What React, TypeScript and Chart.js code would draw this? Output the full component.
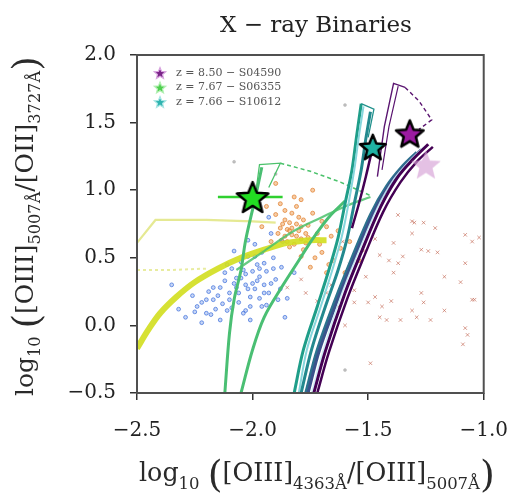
import React, { useEffect, useRef } from 'react';
import { Chart, registerables } from 'chart.js';

Chart.register(...registerables);

type P = [number, number];

const FONT = '"DejaVu Serif", serif';

const xTicks = [-2.5, -2.0, -1.5, -1.0];
const yTicks = [-0.5, 0.0, 0.5, 1.0, 1.5, 2.0];

const legendLabels = ['z = 8.50 − S04590', 'z = 7.67 − S06355', 'z = 7.66 − S10612'];

// Observed galaxies
const purpleStar: P = [-1.32, 1.42];
const greenStar: P = [-2.0, 0.95];
const tealStar: P = [-1.48, 1.32];
const fadedStar: P = [-1.25, 1.19];
const greenErr: P[] = [[-2.15, 0.95], [-1.87, 0.95]];

// Comparison samples
const bluePts: P[] = [
  [-2.22, 0.17], [-2.2, 0.09], [-2.25, 0.1], [-2.17, 0.19], [-2.14, 0.28], [-2.14, 0.04], [-2.11, 0.11],
  [-2.08, 0.31], [-2.04, 0.41], [-2.03, 0.11], [-2.01, 0.21], [-2.01, 0.04], [-1.97, 0.36], [-1.95, 0.46],
  [-1.92, 0.31], [-1.89, 0.19], [-1.86, 0.06], [-2.02, 0.51], [-1.96, 0.54], [-2.12, 0.39], [-2.2, 0.19],
  [-2.1, 0.19], [-1.9, 0.34], [-1.875, 0.43], [-2.04, 0.09], [-1.96, 0.14], [-2.17, 0.28], [-2.24, 0.14],
  [-2.29, 0.06], [-2.22, 0.02], [-1.93, 0.24], [-1.82, 0.39], [-2.02, 0.63], [-1.92, 0.68], [-2.0, 0.31],
  [-2.06, 0.24], [-1.99, 0.27], [-2.07, 0.35], [-1.94, 0.4], [-2.09, 0.13], [-2.15, 0.22], [-1.98, 0.45],
  [-2.05, 0.47], [-1.91, 0.5], [-2.12, 0.33], [-1.88, 0.27], [-2.18, 0.08], [-2.03, 0.3], [-1.97, 0.2],
  [-2.26, 0.22], [-2.32, 0.12], [-1.85, 0.2], [-1.99, 0.6], [-2.08, 0.55], [-2.35, 0.3], [-1.93, 0.8],
  [-1.87, 0.62], [-2.05, 0.35], [-2.02, 0.27], [-1.98, 0.33], [-2.07, 0.28], [-2.1, 0.24], [-2.0, 0.4],
  [-1.95, 0.3], [-2.13, 0.16], [-2.06, 0.17], [-1.94, 0.15], [-2.03, 0.38], [-1.97, 0.42], [-2.16, 0.12],
  [-2.09, 0.42], [-2.01, 0.14], [-1.91, 0.42], [-2.19, 0.25], [-1.99, 0.51], [-2.11, 0.45], [-1.95, 0.24],
];

const orangePts: P[] = [
  [-1.85, 0.71], [-1.79, 0.73], [-1.875, 0.63], [-1.96, 0.73], [-1.77, 0.61], [-1.7, 0.54], [-1.65, 0.48],
  [-1.75, 0.43], [-1.79, 0.51], [-1.68, 0.39], [-1.6, 0.39], [-1.54, 0.48], [-1.99, 0.98], [-1.9, 1.05],
  [-1.82, 0.95], [-1.74, 0.83], [-1.68, 0.73], [-1.83, 0.83], [-1.88, 0.9], [-1.79, 0.93], [-1.74, 1.0],
  [-1.86, 0.78], [-1.81, 0.66], [-1.84, 0.58], [-1.72, 0.68], [-1.92, 0.62], [-1.88, 0.72], [-1.8, 0.8],
  [-1.76, 0.74], [-1.83, 0.67], [-1.9, 0.82], [-1.71, 0.6], [-1.66, 0.66], [-1.78, 0.56], [-1.86, 0.85],
  [-1.94, 0.88], [-1.73, 0.5], [-1.62, 0.57], [-1.67, 0.45], [-1.81, 0.88], [-1.77, 0.68], [-1.84, 0.76],
  [-1.7, 0.77], [-1.63, 0.7], [-1.58, 0.62], [-1.84, 0.7], [-1.86, 0.66], [-1.8, 0.7], [-1.82, 0.6],
  [-1.78, 0.78], [-1.87, 0.75], [-1.83, 0.72], [-1.76, 0.65], [-1.89, 0.68], [-1.81, 0.75], [-1.85, 0.62],
  [-1.79, 0.64],
];

const redPts: P[] = [
  [-1.371, 0.817], [-1.3, 0.76], [-1.26, 0.76], [-1.21, 0.72], [-1.31, 0.68], [-1.47, 0.64], [-1.39, 0.61],
  [-1.27, 0.56], [-1.24, 0.55], [-1.2, 0.54], [-1.08, 0.67], [-1.05, 0.62], [-1.02, 0.65], [-1.45, 0.52],
  [-1.41, 0.48], [-1.37, 0.46], [-1.35, 0.51], [-1.39, 0.39], [-1.17, 0.36], [-1.08, 0.46], [-1.1, 0.32],
  [-1.51, 0.36], [-1.56, 0.26], [-1.47, 0.21], [-1.56, 0.17], [-1.5, 0.17], [-1.44, 0.14], [-1.4, 0.18],
  [-1.31, 0.11], [-1.27, 0.24], [-1.26, 0.17], [-1.17, 0.11], [-1.05, 0.19], [-1.45, 0.06], [-1.42, 0.04],
  [-1.36, 0.04], [-1.29, 0.06], [-1.23, 0.04], [-1.6, 0.0], [-1.08, -0.02], [-1.07, -0.07], [-1.09, -0.14],
  [-1.79, 0.34], [-1.85, 0.28], [-1.77, 0.24], [-1.68, 0.24], [-1.63, 0.14], [-1.49, -0.28], [-1.31, 0.77],
  [-1.04, 0.19], [-1.66, 0.3], [-1.72, 0.18], [-1.58, 0.45], [-1.52, 0.55], [-1.61, 0.62],
];

const grayPts: P[] = [[-1.6, -0.33], [-2.08, 1.21], [-1.6, 1.63], [-1.9, 1.12]];

// Photoionisation model tracks
const yellowThick: P[] = [
  [-2.5, -0.17], [-2.45, -0.03], [-2.4, 0.09], [-2.33, 0.21], [-2.25, 0.32], [-2.15, 0.42],
  [-2.05, 0.5], [-1.95, 0.56], [-1.85, 0.61], [-1.75, 0.63], [-1.68, 0.63],
];
const yellowThin: P[] = [[-2.5, 0.61], [-2.42, 0.78], [-2.2, 0.78], [-2.0, 0.77], [-1.9, 0.76]];
const yellowDotted: P[] = [[-2.5, 0.41], [-2.35, 0.41], [-2.2, 0.42]];

const greenA: P[] = [[-2.12, -0.5], [-2.1, -0.06], [-2.08, 0.19], [-2.05, 0.41], [-2.03, 0.63], [-1.99, 0.93], [-1.96, 1.17]];
const greenB: P[] = [[-2.05, -0.5], [-2.0, -0.18], [-1.95, 0.06], [-1.875, 0.28], [-1.8, 0.48], [-1.74, 0.64], [-1.67, 0.8], [-1.6, 0.92]];
const greenDiag: P[] = [[-2.07, 0.41], [-1.95, 0.55], [-1.82, 0.7], [-1.7, 0.8], [-1.6, 0.88], [-1.49, 0.95]];
const greenTop: P[] = [[-1.99, 0.93], [-1.97, 1.19], [-1.88, 1.2], [-1.93, 1.02]];
const greenDash: P[] = [[-1.88, 1.2], [-1.75, 1.14], [-1.62, 1.06], [-1.49, 0.96]];

const tealA: P[] = [[-1.82, -0.5], [-1.78, -0.18], [-1.72, 0.14], [-1.67, 0.41], [-1.63, 0.65], [-1.6, 0.9], [-1.57, 1.15], [-1.55, 1.4], [-1.53, 1.64]];
const cyanLight: P[] = [[-1.8, -0.5], [-1.765, -0.18], [-1.705, 0.14], [-1.655, 0.41], [-1.615, 0.65], [-1.585, 0.9], [-1.56, 1.15], [-1.54, 1.4], [-1.52, 1.62]];
const tealB: P[] = [[-1.79, -0.5], [-1.745, -0.18], [-1.685, 0.14], [-1.63, 0.41], [-1.59, 0.65], [-1.56, 0.9], [-1.53, 1.15], [-1.51, 1.38], [-1.49, 1.58]];
const tealTop: P[] = [[-1.53, 1.64], [-1.475, 1.6], [-1.5, 1.39]];

const blueTeal: P[] = [[-1.77, -0.5], [-1.72, -0.18], [-1.64, 0.2], [-1.57, 0.5], [-1.49, 0.82], [-1.42, 1.03], [-1.35, 1.18], [-1.29, 1.28]];
const navy: P[] = [[-1.76, -0.5], [-1.71, -0.18], [-1.625, 0.22], [-1.555, 0.52], [-1.47, 0.86], [-1.4, 1.06], [-1.33, 1.2], [-1.27, 1.3]];
const paleGap: P[] = [[-1.745, -0.5], [-1.695, -0.19], [-1.615, 0.23], [-1.545, 0.53], [-1.46, 0.87], [-1.39, 1.08], [-1.32, 1.22], [-1.26, 1.32]];
const purpleMain: P[] = [[-1.735, -0.5], [-1.685, -0.19], [-1.6, 0.24], [-1.53, 0.54], [-1.445, 0.88], [-1.375, 1.09], [-1.305, 1.23], [-1.24, 1.34]];
const purpleOuter: P[] = [[-1.72, -0.5], [-1.67, -0.2], [-1.59, 0.2], [-1.52, 0.5], [-1.435, 0.84], [-1.36, 1.06], [-1.29, 1.21], [-1.22, 1.32]];
const purpleToTeal: P[] = [[-1.57, 0.72], [-1.54, 0.9], [-1.51, 1.1], [-1.48, 1.32]];
const purpleUpA: P[] = [[-1.46, 1.1], [-1.43, 1.47], [-1.39, 1.79], [-1.34, 1.76]];
const purpleUpB: P[] = [[-1.44, 1.15], [-1.41, 1.47], [-1.37, 1.77]];
const purpleDash: P[] = [[-1.34, 1.76], [-1.28, 1.66], [-1.225, 1.52], [-1.28, 1.45]];

const xy = (arr: P[]) => arr.map(([x, y]) => ({ x, y }));
const fmt = (v: number) => v.toFixed(1).replace('-', '−');

function starPath(ctx: CanvasRenderingContext2D, cx: number, cy: number, R: number, r: number) {
  ctx.beginPath();
  for (let i = 0; i < 10; i++) {
    const a = -Math.PI / 2 + (i * Math.PI) / 5;
    const rad = i % 2 === 0 ? R : r;
    const px = cx + rad * Math.cos(a);
    const py = cy + rad * Math.sin(a);
    if (i === 0) ctx.moveTo(px, py);
    else ctx.lineTo(px, py);
  }
  ctx.closePath();
}

function starImage(R: number, fill: string, stroke: string, lw: number) {
  const size = Math.ceil(2 * R + 2 * lw + 6);
  const c = document.createElement('canvas');
  c.width = size;
  c.height = size;
  const ctx = c.getContext('2d')!;
  starPath(ctx, size / 2, size / 2 + R * 0.1, R, R * 0.44);
  ctx.fillStyle = fill;
  ctx.fill();
  if (lw > 0) {
    ctx.lineJoin = 'round';
    ctx.lineWidth = lw;
    ctx.strokeStyle = stroke;
    ctx.stroke();
  }
  return c;
}

type Seg = { t: string; k: 'm' | 's' | 'p' };

// Axis titles with subscripts, scaled to a given length and centred on (cx, baseline)
function drawRich(ctx: CanvasRenderingContext2D, segs: Seg[], cx: number, baseline: number, rotate: boolean, target: number) {
  const base = { m: 20, s: 13, p: 30 };
  const off = { m: 0, s: 6, p: 5 };
  ctx.save();
  let total = 0;
  for (const s of segs) {
    ctx.font = `${base[s.k]}px ${FONT}`;
    total += ctx.measureText(s.t).width;
  }
  const k = target / total;
  ctx.translate(cx, baseline);
  if (rotate) ctx.rotate(-Math.PI / 2);
  ctx.fillStyle = '#2a2a2a';
  ctx.textBaseline = 'alphabetic';
  ctx.textAlign = 'left';
  let x = -target / 2;
  for (const s of segs) {
    ctx.font = `${base[s.k] * k}px ${FONT}`;
    ctx.fillText(s.t, x, off[s.k] * k);
    x += ctx.measureText(s.t).width;
  }
  ctx.restore();
}

const xTitle: Seg[] = [
  { t: 'log', k: 'm' }, { t: '10', k: 's' }, { t: ' ', k: 'm' }, { t: '(', k: 'p' },
  { t: '[OIII]', k: 'm' }, { t: '4363Å', k: 's' }, { t: '/[OIII]', k: 'm' }, { t: '5007Å', k: 's' }, { t: ')', k: 'p' },
];
const yTitle: Seg[] = [
  { t: 'log', k: 'm' }, { t: '10', k: 's' }, { t: ' ', k: 'm' }, { t: '(', k: 'p' },
  { t: '[OIII]', k: 'm' }, { t: '5007Å', k: 's' }, { t: '/[OII]', k: 'm' }, { t: '3727Å', k: 's' }, { t: ')', k: 'p' },
];

const legendColors = [
  { fill: '#7a2488', edge: '#d9a6e0' },
  { fill: '#4fcf4f', edge: '#b5f0b5' },
  { fill: '#2fb3b0', edge: '#a8e6e4' },
];

const decor = {
  id: 'decor',
  afterDatasetsDraw(chart: Chart) {
    const { ctx, chartArea: a } = chart;
    ctx.save();
    ctx.font = `11px ${FONT}`;
    ctx.textBaseline = 'middle';
    ctx.textAlign = 'left';
    legendLabels.forEach((lab, i) => {
      const y = 73 + i * 14.5;
      starPath(ctx, 160, y + 0.6, 6, 2.7);
      ctx.fillStyle = legendColors[i].fill;
      ctx.fill();
      ctx.lineWidth = 1.2;
      ctx.strokeStyle = legendColors[i].edge;
      ctx.stroke();
      ctx.fillStyle = '#555';
      ctx.fillText(lab, 176, y);
    });
    ctx.lineWidth = 2;
    ctx.strokeStyle = '#505050';
    ctx.strokeRect(a.left, a.top, a.right - a.left, a.bottom - a.top);
    ctx.restore();
  },
  afterDraw(chart: Chart) {
    const { ctx } = chart;
    ctx.save();
    ctx.fillStyle = '#222';
    ctx.font = `23px ${FONT}`;
    ctx.textAlign = 'center';
    ctx.textBaseline = 'middle';
    ctx.fillText('X − ray Binaries', 316, 26);
    ctx.restore();
    drawRich(ctx, xTitle, 317, 481, false, 356);
    drawRich(ctx, yTitle, 33, 226, true, 340);
  },
};

export default function App() {
  const ref = useRef<HTMLCanvasElement>(null);

  useEffect(() => {
    if (!ref.current) return;
    const line = (data: P[], color: string, width: number, extra: Record<string, unknown> = {}) => ({
      data: xy(data),
      showLine: true,
      borderColor: color,
      borderWidth: width,
      pointRadius: 0,
      fill: false,
      tension: 0.35,
      order: 1,
      ...extra,
    });
    const pts = (data: P[], style: string, r: number, bg: string, bc: string, bw: number) => ({
      data: xy(data),
      showLine: false,
      pointStyle: style,
      pointRadius: r,
      backgroundColor: bg,
      borderColor: bc,
      borderWidth: bw,
      order: 3,
    });
    const star = (p: P, img: HTMLCanvasElement) => ({
      data: xy([p]),
      showLine: false,
      pointStyle: img,
      pointRadius: 10,
      order: 0,
    });

    const chart = new Chart(ref.current, {
      type: 'scatter',
      data: {
        datasets: [
          star(greenStar, starImage(16.5, '#22dd22', '#000', 2.5)),
          star(purpleStar, starImage(14.5, '#9b1aa0', '#000', 2.5)),
          star(tealStar, starImage(13.5, '#1fb3a3', '#000', 2.5)),
          star(fadedStar, starImage(15, 'rgba(214,160,214,0.65)', 'rgba(214,160,214,0.3)', 1)),
          line(greenErr, '#2fd02f', 2.5, { tension: 0, order: 0.5 }),

          line(purpleToTeal, '#440154', 2.5),
          line(purpleUpA, '#5a1470', 1.4, { tension: 0 }),
          line(purpleUpB, '#5a1470', 1.2, { tension: 0 }),
          line(purpleDash, '#5a1470', 1.4, { tension: 0, borderDash: [4, 3] }),
          line(purpleOuter, '#440154', 2.5),
          line(purpleMain, '#440154', 3),
          line(paleGap, 'rgba(200,235,245,0.9)', 1.5),
          line(navy, '#3b528b', 3),
          line(blueTeal, '#2c728e', 3),
          line(tealTop, '#21918c', 1.3, { tension: 0 }),
          line(tealB, '#23898e', 3),
          line(cyanLight, '#86d6dc', 2),
          line(tealA, '#1f9e89', 3),
          line(greenTop, '#4cc26c', 1.3, { tension: 0 }),
          line(greenDash, '#4cc26c', 1.5, { tension: 0, borderDash: [4, 3] }),
          line(greenDiag, 'rgba(76,194,108,0.85)', 2.2),
          line(greenB, '#4abf73', 3),
          line(greenA, '#4abf73', 3),
          line(yellowThin, 'rgba(222,228,120,0.8)', 2.2, { tension: 0, order: 2 }),
          line(yellowDotted, 'rgba(222,228,120,0.7)', 2, { tension: 0, borderDash: [3, 3], order: 2 }),
          line(yellowThick, 'rgba(210,222,30,0.9)', 6, { order: 2 }),

          pts(grayPts, 'circle', 1.5, 'rgba(150,150,150,0.6)', 'rgba(150,150,150,0.6)', 0.5),
          pts(redPts, 'crossRot', 2.5, 'rgba(195,105,85,0.6)', 'rgba(195,105,85,0.65)', 1),
          pts(orangePts, 'circle', 2, 'rgba(235,145,60,0.45)', 'rgba(225,130,50,0.75)', 1),
          pts(bluePts, 'circle', 1.9, 'rgba(70,120,225,0.3)', 'rgba(60,110,220,0.7)', 1),
        ] as any,
      },
      options: {
        responsive: false,
        animation: false,
        devicePixelRatio: 1,
        events: [],
        layout: { padding: { top: 55, right: 30, left: 0, bottom: 0 } },
        plugins: { legend: { display: false }, tooltip: { enabled: false }, title: { display: false } },
        scales: {
          x: {
            type: 'linear',
            min: -2.5,
            max: -1.0,
            afterFit: (s: any) => { s.height = 102; },
            afterBuildTicks: (s: any) => { s.ticks = xTicks.map((v) => ({ value: v })); },
            ticks: {
              callback: (v: any) => fmt(Number(v)),
              font: { family: FONT, size: 20 },
              color: '#222',
              padding: 19,
              maxRotation: 0,
              autoSkip: false,
            },
            grid: { drawOnChartArea: false, tickLength: 7, color: '#333', lineWidth: 1.5 },
            border: { display: false },
          },
          y: {
            type: 'linear',
            min: -0.5,
            max: 2.0,
            afterFit: (s: any) => { s.width = 137; },
            afterBuildTicks: (s: any) => { s.ticks = yTicks.map((v) => ({ value: v })); },
            ticks: {
              callback: (v: any) => fmt(Number(v)),
              font: { family: FONT, size: 20 },
              color: '#222',
              padding: 14,
              autoSkip: false,
            },
            grid: { drawOnChartArea: false, tickLength: 7, color: '#333', lineWidth: 1.5 },
            border: { display: false },
          },
        },
      } as any,
      plugins: [decor as any],
    });
    return () => chart.destroy();
  }, []);

  return (
    <div style={{ position: 'absolute', left: 0, top: 0, width: 527, height: 495, background: '#fff' }}>
      <canvas ref={ref} width={527} height={495} style={{ display: 'block' }} />
    </div>
  );
}
